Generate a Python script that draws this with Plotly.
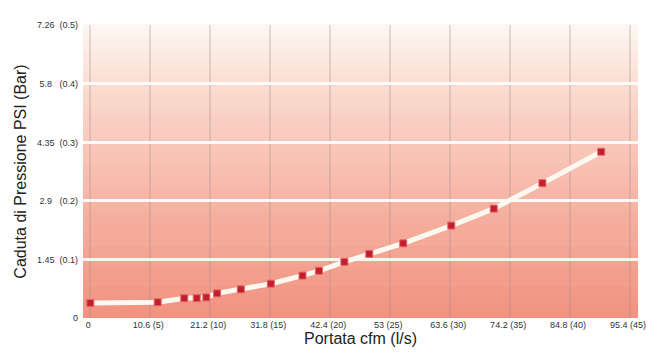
import plotly.graph_objects as go

# flow (cfm) vs pressure drop (PSI)
portata_cfm = [0, 11.9, 16.6, 18.8, 20.5, 22.4, 26.6, 31.9, 37.5, 40.4,
               44.9, 49.3, 55.3, 63.8, 71.3, 79.9, 90.3]
caduta_psi = [0.37, 0.39, 0.49, 0.49, 0.51, 0.61, 0.71, 0.85, 1.05, 1.17,
              1.39, 1.59, 1.85, 2.29, 2.71, 3.34, 4.12]

x_ticks = [0, 10.6, 21.2, 31.8, 42.4, 53, 63.6, 74.2, 84.8, 95.4]
x_labels = ['0', '10.6 (5)', '21.2 (10)', '31.8 (15)', '42.4 (20)', '53 (25)',
            '63.6 (30)', '74.2 (35)', '84.8 (40)', '95.4 (45)']
y_ticks = [0, 1.45, 2.9, 4.35, 5.8, 7.26]
y_labels = ['0', '1.45  (0.1)', '2.9   (0.2)', '4.35  (0.3)', '5.8   (0.4)', '7.26  (0.5)']

tick_font = dict(family='Liberation Sans, Arial, sans-serif', size=9, color='#333333')

fig = go.Figure()
fig.add_trace(go.Scatter(x=portata_cfm, y=caduta_psi, mode='lines+markers',
                         line=dict(color='#fff8f0', width=5),
                         marker=dict(symbol='square', size=7, color='#c41e2e',
                                     line=dict(width=1, color='#e06a66')),
                         showlegend=False, hoverinfo='x+y'))

# background gradient, pale at the top, salmon at the bottom
stops = [(0.0, (242, 146, 128)), (0.35, (246, 176, 160)), (0.7, (250, 210, 198)),
         (0.85, (252, 228, 218)), (1.0, (254, 248, 244))]
n = 60
for i in range(n):
    t = (i + 0.5) / n
    for (a, ca), (b, cb) in zip(stops[:-1], stops[1:]):
        if a <= t <= b:
            f = (t - a) / (b - a)
            c = tuple(int(ca[k] + (cb[k] - ca[k]) * f) for k in range(3))
            break
    fig.add_shape(type='rect', xref='x domain', yref='y domain',
                  x0=0, x1=1, y0=i / n, y1=(i + 1) / n + 0.002,
                  fillcolor='rgb(%d,%d,%d)' % c, line=dict(width=0), layer='below')

# page body has an 8px margin, so the figure is a little smaller than the window
fig.update_layout(
    width=650, height=348,
    margin=dict(l=67, r=13, t=13, b=38),
    paper_bgcolor='white', plot_bgcolor='rgba(0,0,0,0)',
    font=dict(family='Liberation Sans, Arial, sans-serif', color='#222222'),
)
fig.update_xaxes(range=[-1.3, 96.8], tickvals=x_ticks, ticktext=x_labels,
                 tickfont=tick_font, ticklabeloverflow='allow', ticklabelshift=-2,
                 showgrid=True, gridcolor='rgba(160,140,140,0.28)', gridwidth=1.5,
                 zeroline=False, showline=False, ticks='',
                 title=dict(text='Portata cfm (l/s)', font=dict(size=16), standoff=3))
fig.update_yaxes(range=[0, 7.26], tickvals=y_ticks, ticktext=y_labels,
                 tickfont=tick_font,
                 showgrid=True, gridcolor='rgba(255,255,255,0.9)', gridwidth=2.5,
                 zeroline=False, showline=False, ticks='', ticklabelstandoff=4,
                 title=dict(text='Caduta di Pressione PSI (Bar)', font=dict(size=16), standoff=6))

fig.write_html("out.html")
